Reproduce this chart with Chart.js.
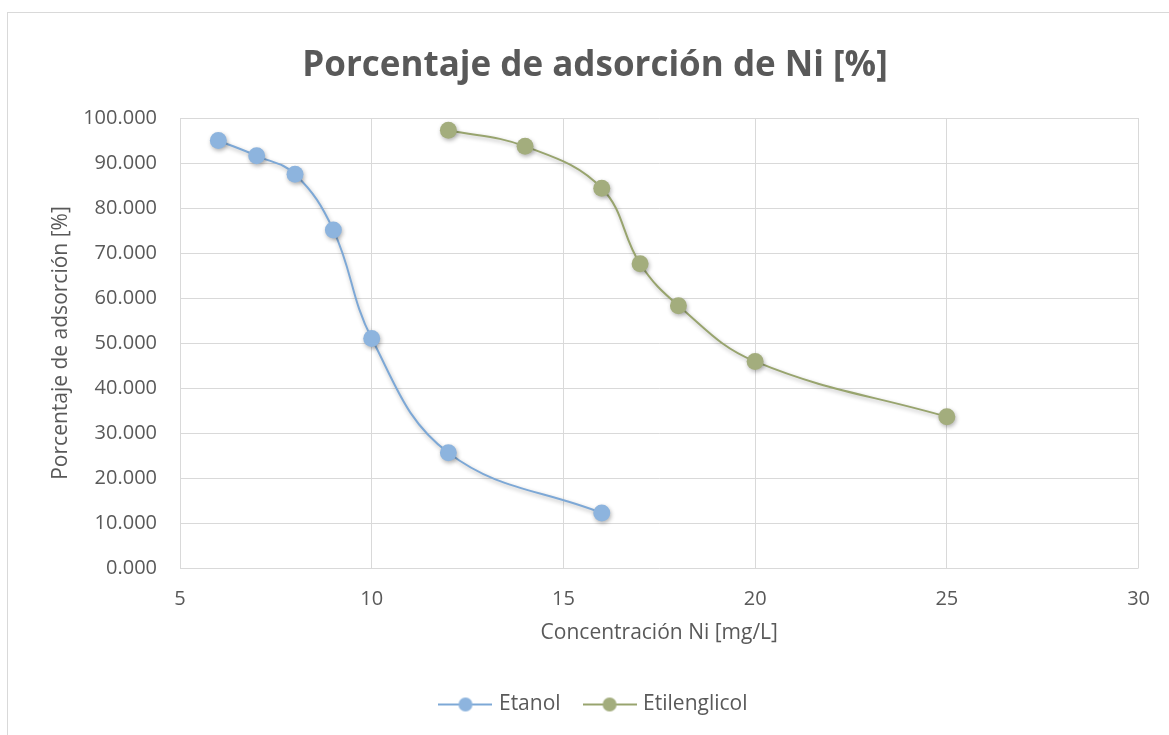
<!DOCTYPE html>
<html>
<head>
<meta charset="utf-8">
<script src="https://cdn.jsdelivr.net/npm/chart.js@4"></script>
<style>
  html, body { margin: 0; padding: 0; background: #fff; }
  #wrap { position: relative; width: 1169px; height: 735px; overflow: hidden; }
  #frame { position: absolute; left: 7px; top: 12px; width: 1200px; height: 800px; border: 1px solid #d9d9d9; box-sizing: border-box; }
  #myChart { position: absolute; left: 0; top: 0; }
</style>
</head>
<body>
<div id="wrap">
  <div id="frame"></div>
  <canvas id="myChart" width="1169" height="735"></canvas>
</div>
<script>
// data
const etanolX = [6, 7, 8, 9, 10, 12, 16];
const etanolY = [95.0, 91.6, 87.5, 75.1, 51.0, 25.6, 12.2];
const etilenX = [12, 14, 16, 17, 18, 20, 25];
const etilenY = [97.3, 93.7, 84.4, 67.6, 58.3, 45.9, 33.6];
const seriesNames = ['Etanol', 'Etilenglicol'];

const textColor = '#595959';
const gridColor = '#d9d9d9';
const blueLine = '#7da8d6';
const bluePoint = '#8db4de';
const greenLine = '#98a46e';
const greenPoint = '#a3ad7d';

Chart.defaults.font.family = '"Open Sans", sans-serif';
Chart.defaults.color = textColor;

function toPoints(xs, ys) {
  let pts = [];
  for (let i = 0; i < xs.length; i++) pts.push({ x: xs[i], y: ys[i] });
  return pts;
}

// legend icon: line with circle, like excel
function legendIcon(line, fill) {
  const c = document.createElement('canvas');
  c.width = 54; c.height = 18;
  const g = c.getContext('2d');
  g.strokeStyle = line;
  g.lineWidth = 2;
  g.beginPath(); g.moveTo(0, 9); g.lineTo(54, 9); g.stroke();
  g.fillStyle = fill;
  g.beginPath(); g.arc(27, 9, 7, 0, Math.PI * 2); g.fill();
  return c;
}
const icons = [legendIcon(blueLine, bluePoint), legendIcon(greenLine, greenPoint)];

// soft shadow under lines and markers
const shadowPlugin = {
  id: 'shadow',
  beforeDatasetsDraw(chart) {
    const ctx = chart.ctx;
    ctx.save();
    ctx.shadowColor = 'rgba(0,0,0,0.3)';
    ctx.shadowBlur = 4;
    ctx.shadowOffsetX = 1;
    ctx.shadowOffsetY = 2;
  },
  afterDatasetsDraw(chart) {
    chart.ctx.restore();
  }
};

const ctx = document.getElementById('myChart');
new Chart(ctx, {
  type: 'scatter',
  data: {
    datasets: [{
      label: seriesNames[0],
      data: toPoints(etanolX, etanolY),
      showLine: true,
      tension: 0.4,
      borderColor: blueLine,
      borderWidth: 2,
      backgroundColor: bluePoint,
      pointBackgroundColor: bluePoint,
      pointBorderWidth: 0,
      pointRadius: 8.5,
      pointHoverRadius: 8.5
    }, {
      label: seriesNames[1],
      data: toPoints(etilenX, etilenY),
      showLine: true,
      tension: 0.4,
      borderColor: greenLine,
      borderWidth: 2,
      backgroundColor: greenPoint,
      pointBackgroundColor: greenPoint,
      pointBorderWidth: 0,
      pointRadius: 8.5,
      pointHoverRadius: 8.5
    }]
  },
  options: {
    responsive: false,
    animation: false,
    events: [],
    layout: { padding: { left: 48, right: 27, top: 0, bottom: 10 } },
    plugins: {
      title: {
        display: true,
        text: 'Porcentaje de adsorción de Ni [%]',
        color: textColor,
        font: { size: 35, weight: 'bold' },
        padding: { top: 45, bottom: 31 }
      },
      legend: {
        position: 'bottom',
        labels: {
          color: textColor,
          font: { size: 21 },
          usePointStyle: true,
          pointStyleWidth: 46,
          padding: 26,
          generateLabels(chart) {
            const items = Chart.defaults.plugins.legend.labels.generateLabels(chart);
            items.forEach((it, i) => { it.pointStyle = icons[i]; });
            return items;
          }
        }
      },
      tooltip: { enabled: false }
    },
    scales: {
      x: {
        type: 'linear',
        min: 5, max: 30,
        ticks: { stepSize: 5, padding: 19, color: textColor, font: { size: 20 } },
        grid: { color: gridColor, drawTicks: false },
        border: { display: false },
        title: {
          display: true, text: 'Concentración Ni [mg/L]', color: textColor,
          font: { size: 21 }, padding: { top: 0, bottom: 22 }
        },
        afterFit(scale) { scale.height = 100; }
      },
      y: {
        min: 0, max: 100,
        ticks: {
          stepSize: 10, padding: 23, color: textColor, font: { size: 20 },
          callback: v => v.toFixed(3)
        },
        grid: { color: gridColor, drawTicks: false },
        border: { display: false },
        title: {
          display: true, text: 'Porcentaje de adsorción [%]', color: textColor,
          font: { size: 21 }, padding: { top: 0, bottom: 0 }
        },
        afterFit(scale) { scale.width = 132; }
      }
    }
  },
  plugins: [shadowPlugin]
});
</script>
</body>
</html>
